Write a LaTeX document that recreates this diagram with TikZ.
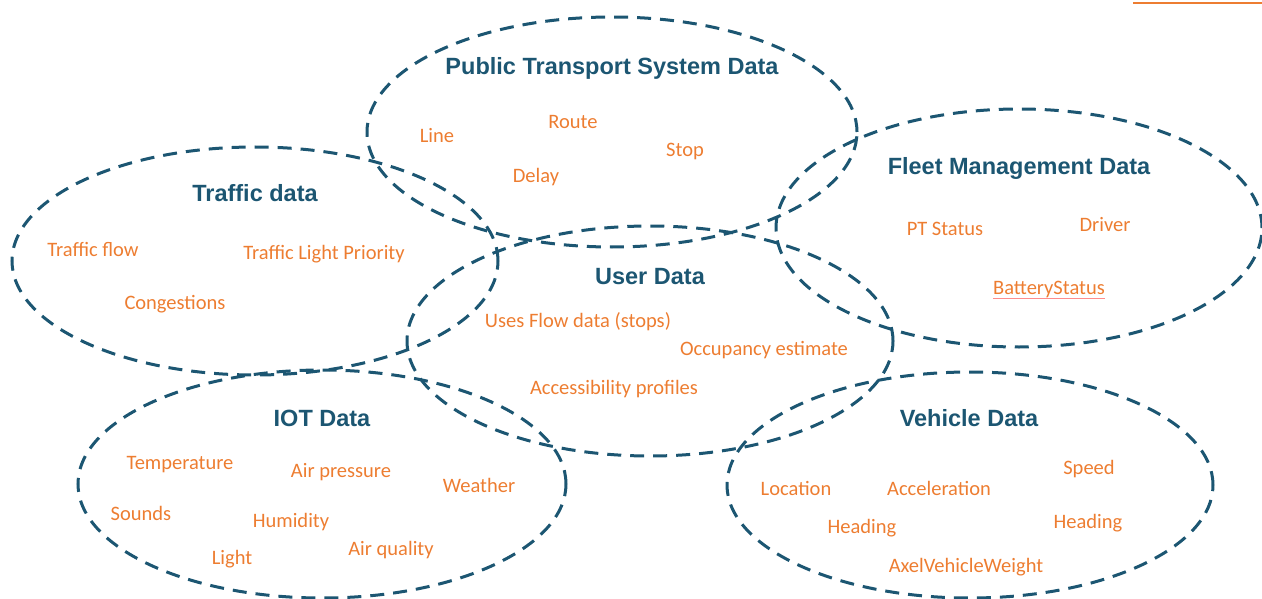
\documentclass[tikz,border=0pt]{standalone}
\usepackage{fontspec}
\setmainfont{Carlito}
\newfontfamily\headfont{Liberation Sans}
\usepackage{tikz}

\definecolor{setblue}{RGB}{28,86,114}
\definecolor{itemorange}{RGB}{237,125,49}

\tikzset{
  dataset/.style={draw=setblue, line width=3pt, dash pattern=on 14pt off 9pt},
  settitle/.style={anchor=base, inner sep=0pt, text=setblue, font=\headfont\bfseries\fontsize{23.5}{26}\selectfont},
  setitem/.style={anchor=base, inner sep=0pt, text=itemorange, font=\fontsize{20.5}{24}\selectfont},
}

\begin{document}
\begin{tikzpicture}[x=1pt,y=-1pt]
\useasboundingbox (0,0) rectangle (1262,599);

\draw[itemorange, line width=2pt] (1133,3) -- (1262,3) ;

% public transport
\draw[dataset] (612,132) ellipse (245pt and 115pt) ;
\node[settitle] (ptsys) at (612,75) {Public Transport System Data} ;
\node[setitem] (line) at (437,143) {Line} ;
\node[setitem] (route) at (573,129) {Route} ;
\node[setitem] (stop) at (685,157) {Stop} ;
\node[setitem] (delay) at (536,183) {Delay} ;

% traffic
\draw[dataset] (255,261) ellipse (243pt and 114pt) ;
\node[settitle] (traffic) at (255,201) {Traffic data} ;
\node[setitem] (flow) at (93,256) {Traffic flow} ;
\node[setitem] (prio) at (324,259) {Traffic Light Priority} ;
\node[setitem] (cong) at (175,309) {Congestions} ;

% fleet
\draw[dataset] (1019,228) ellipse (243pt and 119pt) ;
\node[settitle] (fleet) at (1019,175) {Fleet Management Data} ;
\node[setitem] (ptstat) at (945,235) {PT Status} ;
\node[setitem] (driver) at (1105,231) {Driver} ;
\node[setitem] (bat) at (1049,294) {BatteryStatus} ;
\draw[red!45, line width=0.8pt] ([yshift=-4pt]bat.base west) -- ([yshift=-4pt]bat.base east) ;

% user
\draw[dataset] (650,341) ellipse (243pt and 115pt) ;
\node[settitle] (user) at (650,284) {User Data} ;
\node[setitem] (uses) at (578,327) {Uses Flow data (stops)} ;
\node[setitem] (occ) at (764,355) {Occupancy estimate} ;
\node[setitem] (acc) at (614,394) {Accessibility profiles} ;

% iot
\draw[dataset] (322,484) ellipse (244pt and 114pt) ;
\node[settitle] (iot) at (322,426) {IOT Data} ;
\node[setitem] (temp) at (180,469) {Temperature} ;
\node[setitem] (press) at (341,477) {Air pressure} ;
\node[setitem] (weather) at (479,492) {Weather} ;
\node[setitem] (sounds) at (141,520) {Sounds} ;
\node[setitem] (hum) at (291,527) {Humidity} ;
\node[setitem] (light) at (232,564) {Light} ;
\node[setitem] (air) at (391,555) {Air quality} ;

% vehicle
\draw[dataset] (970,485) ellipse (243pt and 113pt) ;
\node[settitle] (vehicle) at (969,426) {Vehicle Data} ;
\node[setitem] (loc) at (796,495) {Location} ;
\node[setitem] (accel) at (939,495) {Acceleration} ;
\node[setitem] (speed) at (1089,474) {Speed} ;
\node[setitem] (head) at (862,533) {Heading} ;
\node[setitem] (headb) at (1088,528) {Heading} ;
\node[setitem] (axel) at (966,572) {AxelVehicleWeight} ;

\end{tikzpicture}
\end{document}
